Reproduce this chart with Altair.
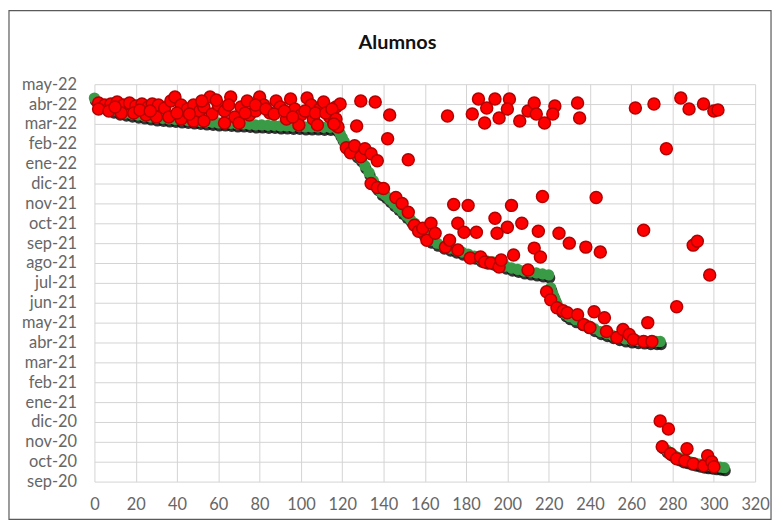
import altair as alt
import pandas as pd

# Y axis: months counted from 1-sep-2020 (0) to 1-may-2022 (20)
month_labels = ["sep-20", "oct-20", "nov-20", "dic-20", "ene-21", "feb-21", "mar-21",
                "abr-21", "may-21", "jun-21", "jul-21", "ago-21", "sep-21", "oct-21",
                "nov-21", "dic-21", "ene-22", "feb-22", "mar-22", "abr-22", "may-22"]
x_ticks = list(range(0, 321, 20))
chart_title = "Alumnos"

# Green series (x = alumno nº, m = months since sep-20)
green_x = [0, 2, 4, 6, 9, 12, 15, 18, 21, 24, 27, 30, 33, 36, 39, 42, 45, 48, 51, 54, 57, 60,
           63, 66, 69, 72, 75, 78, 81, 84, 87, 90, 93, 96, 99, 102, 105, 108, 111, 114, 117,
           118, 119, 120, 121, 123, 125, 127, 129, 131, 133, 135, 137, 139, 141, 143, 145, 147,
           149, 151, 153, 155, 157, 159, 161, 163, 166, 169, 172, 175, 178, 181, 184, 187, 190,
           193, 196, 199, 202, 205, 208, 211, 214, 217, 220,
           221, 222, 223, 224, 226, 228, 230, 233, 236, 239, 242, 245, 248, 251, 254, 257, 260,
           263, 266, 269, 272, 274,
           275, 277, 279, 281, 283, 285, 287, 289, 291, 293, 295, 297, 299, 301, 303, 305]
green_m = [19.30, 19.10, 18.95, 18.83, 18.70, 18.60, 18.55, 18.50, 18.45, 18.40, 18.35, 18.30,
           18.28, 18.25, 18.23, 18.20, 18.18, 18.15, 18.13, 18.10, 18.08, 18.05, 18.05, 18.03,
           18.00, 18.00, 17.98, 17.95, 17.95, 17.93, 17.93, 17.90, 17.90, 17.88, 17.88, 17.85,
           17.85, 17.85, 17.83, 17.83, 17.80,
           17.70, 17.50, 17.30, 17.10, 16.85, 16.65, 16.45, 16.25, 15.90, 15.55, 15.15, 14.80,
           14.55, 14.40, 14.20, 14.00, 13.80, 13.60, 13.40, 13.20, 13.00, 12.80, 12.55, 12.35,
           12.15, 12.00, 11.85, 11.75, 11.65, 11.55, 11.45, 11.35, 11.20, 11.10, 11.05, 10.95,
           10.85, 10.75, 10.68, 10.60, 10.55, 10.50, 10.45, 10.40,
           9.75, 9.45, 9.20, 8.95, 8.65, 8.45, 8.30, 8.15, 8.00, 7.85, 7.70, 7.55, 7.45, 7.35,
           7.25, 7.18, 7.13, 7.10, 7.08, 7.05, 7.05, 7.05,
           1.80, 1.60, 1.45, 1.30, 1.20, 1.10, 1.05, 0.98, 0.93, 0.88, 0.83, 0.80, 0.78, 0.75,
           0.73, 0.70]

# Red series, grouped by region of the chart
red_x_a = [2, 5, 8, 11, 14, 17, 20, 23, 26, 28, 31, 34, 37, 39, 42, 45, 48, 51, 53, 56,
           57, 60, 63, 66, 68, 71, 74, 75, 78, 80, 82, 85, 88, 90, 93, 95, 97, 100, 103, 105,
           106, 109, 111, 114, 117, 119]
red_m_a = [19.05, 18.95, 19.0, 19.1, 18.95, 19.05, 18.9, 19.0, 18.85, 19.0, 18.95, 18.8, 19.15,
           19.35, 18.95, 18.75, 18.95, 18.65, 18.85, 19.35, 18.5, 18.95, 18.65, 19.35, 18.35,
           18.85, 19.15, 18.45, 18.65, 19.35, 18.95, 18.55, 19.15, 18.85, 18.25, 19.25, 18.75,
           18.45, 19.3, 18.95, 18.25, 18.75, 19.1, 18.35, 18.85, 19.0]
red_x_b = [2, 7, 13, 19, 25, 30, 36, 42, 48, 53, 63, 70, 99, 108, 116,
           10, 22, 27, 40, 46, 52, 59, 65, 73, 78, 83, 87, 92, 96, 102, 107, 112, 115, 117, 118]
red_m_b = [18.75, 18.65, 18.55, 18.55, 18.45, 18.35, 18.35, 18.25, 18.15, 18.15, 18.05, 18.05,
           17.95, 17.95, 18.05,
           18.85, 18.7, 18.65, 18.55, 18.5, 19.15, 19.2, 18.95, 18.55, 18.95, 18.75, 18.5, 18.65,
           18.35, 18.65, 18.55, 18.55, 18.75, 18.25, 17.85]
red_x_c = [129, 136, 143, 127, 142, 152, 171, 183, 186, 194, 190, 189, 196, 201, 200, 206, 210,
           213, 214, 218, 223, 222, 234, 235, 262, 271, 284, 288, 295, 300, 302, 277]
red_m_c = [19.15, 19.1, 18.45, 17.9, 17.25, 16.2, 18.4, 18.5, 19.25, 19.25, 18.8, 18.05, 18.3,
           19.25, 18.75, 18.15, 18.65, 19.05, 18.5, 18.05, 18.9, 18.5, 19.05, 18.3, 18.8, 19.0,
           19.3, 18.75, 19.0, 18.65, 18.7, 16.75]
red_x_d = [116, 122, 124, 126, 129, 131, 134, 137, 134, 137, 140, 146, 149, 152, 155, 157, 159,
           161, 163, 165, 170, 172, 176, 182, 187, 189, 192, 196, 197, 203, 210, 213, 216]
red_m_d = [18.0, 16.8, 16.55, 16.9, 16.35, 16.75, 16.5, 16.15, 15.0, 14.8, 14.75, 14.3, 14.0,
           13.55, 12.9, 12.6, 12.75, 12.15, 13.0, 12.5, 11.8, 12.15, 11.65, 11.25, 11.3, 11.05,
           11.0, 10.8, 11.15, 11.4, 10.65, 11.75, 11.3]
red_x_e = [174, 181, 176, 179, 185, 194, 195, 200, 202, 207, 215, 217, 225, 230, 238, 245, 243,
           266, 290, 292, 298, 282, 268]
red_m_e = [13.95, 13.9, 13.0, 12.55, 12.55, 13.25, 12.5, 12.8, 13.9, 13.0, 12.6, 14.35, 12.5,
           12.0, 11.8, 11.55, 14.3, 12.65, 11.9, 12.1, 10.4, 8.8, 8.0]
red_x_f = [219, 221, 224, 227, 229, 234, 237, 240, 242, 247, 248, 253, 256, 259, 261, 266, 270]
red_m_f = [9.55, 9.15, 8.75, 8.6, 8.5, 8.4, 7.9, 7.75, 8.55, 8.25, 7.55, 7.25, 7.65, 7.4, 7.15,
           7.05, 7.05]
red_x_g = [274, 278, 275, 279, 282, 287, 286, 290, 295, 297, 299, 300]
red_m_g = [3.05, 2.65, 1.75, 1.4, 1.15, 1.65, 1.05, 0.9, 0.8, 1.3, 1.0, 0.75]

red_x = red_x_a + red_x_b + red_x_c + red_x_d + red_x_e + red_x_f + red_x_g
red_m = red_m_a + red_m_b + red_m_c + red_m_d + red_m_e + red_m_f + red_m_g

green = pd.DataFrame({"n": green_x, "mes": green_m})
red = pd.DataFrame({"n": red_x, "mes": red_m})

FONT = "Lato"
label_expr = "[" + ",".join(f"'{l}'" for l in month_labels) + "][datum.value]"

x_enc = alt.X("n:Q", scale=alt.Scale(domain=[0, 320], nice=False, zero=False),
              axis=alt.Axis(values=x_ticks, title=None, grid=True, gridColor="#d4d4d4",
                            gridWidth=1, domain=False, ticks=False, labelFont=FONT,
                            labelFontSize=16.5, labelColor="#666666", labelPadding=15,
                            labelFlush=False, labelOverlap=False))
y_enc = alt.Y("mes:Q", scale=alt.Scale(domain=[0, 20], nice=False, zero=False),
              axis=alt.Axis(values=list(range(21)), labelExpr=label_expr, title=None,
                            grid=True, gridColor="#d4d4d4", gridWidth=1, domain=False,
                            ticks=False, labelFont=FONT, labelFontSize=16.5,
                            labelColor="#666666", labelPadding=18, labelFlush=False,
                            labelOverlap=False))

one_row = alt.Chart(green).transform_filter("datum.n == 0")

frame = one_row.mark_rect(fillOpacity=0, stroke="#5a5a5a", strokeWidth=1.2).encode(
    x=alt.value(-86), x2=alt.value(681), y=alt.value(-74), y2=alt.value(438))

title_txt = one_row.mark_text(font=FONT, fontSize=20, fontWeight="bold", color="#111111",
                              align="center", baseline="middle").encode(
    x=alt.value(305), y=alt.value(-41), text=alt.value(chart_title))

base_g = alt.Chart(green)
green_shadow = base_g.mark_circle(size=130, color="#111111", opacity=0.85).encode(
    x=x_enc, y=y_enc, xOffset=alt.value(1), yOffset=alt.value(3))
green_pts = base_g.mark_circle(size=130, color="#3a9b47", opacity=1).encode(x=x_enc, y=y_enc)

red_pts = alt.Chart(red).mark_point(shape="circle", filled=True, size=145, fill="#ff0000",
                                    stroke="#b30000", strokeWidth=1.5, opacity=1).encode(
    x=x_enc, y=y_enc)

chart = alt.layer(frame, title_txt, green_shadow, green_pts, red_pts).properties(
    width=665, height=400,
    autosize=alt.AutoSizeParams(type="none"),
    padding={"left": 87, "top": 75, "right": 20, "bottom": 40},
).configure_view(stroke=None)

chart.save("out.html", embed_options={"renderer": "svg", "actions": False})
